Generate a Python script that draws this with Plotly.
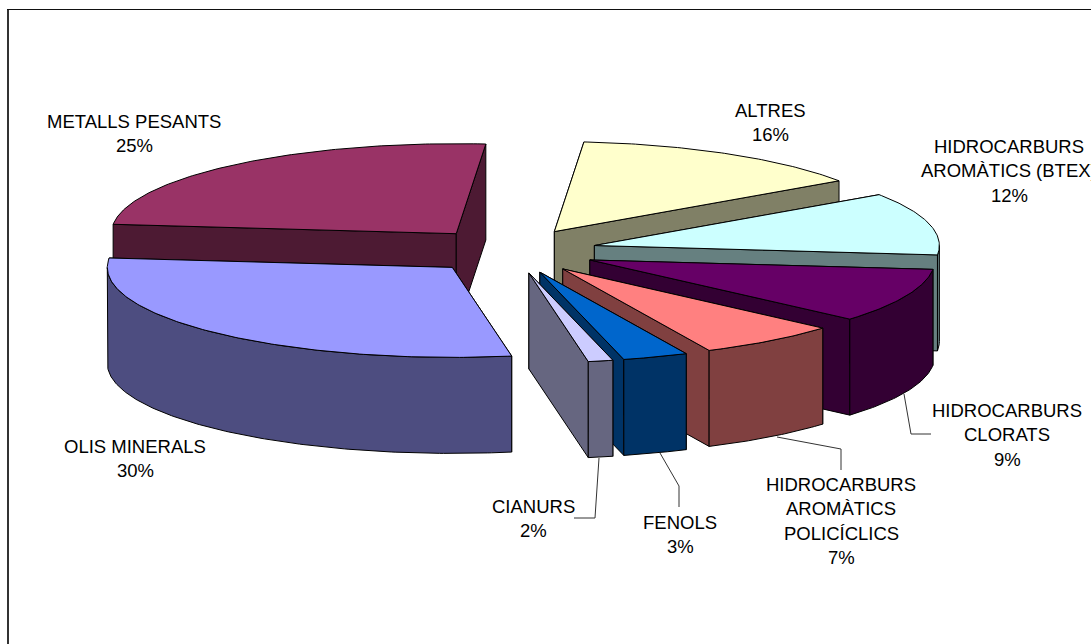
import math
import plotly.graph_objects as go

# ---- data ----
categories = ["METALLS PESANTS", "ALTRES", "HIDROCARBURS AROMÀTICS (BTEX)", "HIDROCARBURS CLORATS",
              "HIDROCARBURS AROMÀTICS POLICÍCLICS", "FENOLS", "CIANURS", "OLIS MINERALS"]
label_percent = [25, 16, 12, 9, 7, 3, 2, 30]
# slice sizes as actually drawn (share of the full turn, in %), clockwise
drawn_share = [24.7, 14.08, 11.22, 9.75, 6.61, 3.06, 1.16, 29.42]
top_colors = ["#993366", "#FFFFCC", "#CCFFFF", "#660066", "#FF8080", "#0066CC", "#CCCCFF", "#9999FF"]
side_colors = ["#4D1A33", "#808066", "#668080", "#330033", "#804040", "#003366", "#666680", "#4D4D80"]
label_lines = [["METALLS PESANTS"], ["ALTRES"], ["HIDROCARBURS", "AROMÀTICS (BTEX)"],
               ["HIDROCARBURS", "CLORATS"], ["HIDROCARBURS", "AROMÀTICS", "POLICÍCLICS"],
               ["FENOLS"], ["CIANURS"], ["OLIS MINERALS"]]
label_x = [134, 770, 1009, 1007, 841, 680, 533, 135]
label_y = [121, 110, 146, 410, 484, 522, 506, 446]
leader_x = [[904, 911, 931], [777, 841, 841], [660, 679, 679], [599, 595, 574]]
leader_y = [[394, 434, 434], [437, 449, 470], [453, 486, 507], [458, 518, 518]]

# ---- pie geometry ----
CX, CY, RX, RY, DEPTH, EXPLODE = 511, 251, 345, 90, 96, 86
START_DEG = 276
LINE_H = 24.6


def pt(ox, oy, t):
    r = math.radians(t)
    return ox + RX * math.sin(r), oy - RY * math.cos(r)


def arc(ox, oy, a, b, dy=0):
    n = max(2, int(abs(b - a) * 1.5))
    pts = [pt(ox, oy, a + (b - a) * i / n) for i in range(n + 1)]
    return [(x, y + dy) for x, y in pts]


fig = go.Figure()


def poly(pts, color):
    xs = [p[0] for p in pts] + [pts[0][0]]
    ys = [p[1] for p in pts] + [pts[0][1]]
    fig.add_trace(go.Scatter(x=xs, y=ys, mode="lines", fill="toself", fillcolor=color,
                             line=dict(color="#000000", width=1), hoverinfo="skip", showlegend=False))


total = sum(drawn_share)
angle = START_DEG
spans = []
for share in drawn_share:
    sweep = share / total * 360
    spans.append((angle, angle + sweep))
    angle += sweep

for i, (a, b) in enumerate(spans):
    mid = math.radians((a + b) / 2)
    ox = CX + EXPLODE * math.sin(mid)
    oy = CY - EXPLODE * RY / RX * math.cos(mid)
    side, top = side_colors[i], top_colors[i]
    for t in (a, b):
        ex, ey = pt(ox, oy, t)
        poly([(ox, oy), (ex, ey), (ex, ey + DEPTH), (ox, oy + DEPTH)], side)
    # outer wall: only the part facing the viewer
    a2, b2 = max(a % 360 if a < 360 else a - 360, 90), min(b if b <= 360 else b - 360, 270)
    if a < 360 and b > 360:
        a2, b2 = 0, -1
    if b2 > a2:
        upper = arc(ox, oy, a2, b2)
        lower = arc(ox, oy, a2, b2, DEPTH)
        poly(upper + lower[::-1], side)
    poly([(ox, oy)] + arc(ox, oy, a, b), top)

for lx, ly in zip(leader_x, leader_y):
    fig.add_trace(go.Scatter(x=lx, y=ly, mode="lines", line=dict(color="#333333", width=1),
                             hoverinfo="skip", showlegend=False))

for lines, pct, x, y in zip(label_lines, label_percent, label_x, label_y):
    for k, txt in enumerate(lines + [f"{pct}%"]):
        fig.add_annotation(x=x, y=y + k * LINE_H, text=txt, showarrow=False, xanchor="center", yanchor="middle",
                           font=dict(family="Liberation Sans", size=18.5, color="#000000"))

fig.update_layout(
    width=1091, height=644, autosize=False, margin=dict(l=0, r=0, t=0, b=0),
    paper_bgcolor="#FFFFFF", plot_bgcolor="#FFFFFF", showlegend=False,
    xaxis=dict(range=[0, 1091], visible=False, fixedrange=True),
    yaxis=dict(range=[644, 0], visible=False, fixedrange=True),
    shapes=[
        dict(type="line", xref="x", yref="y", x0=8, x1=8, y0=9, y1=644, line=dict(color="#333333", width=2)),
        dict(type="line", xref="x", yref="y", x0=7, x1=1091, y0=9.5, y1=9.5, line=dict(color="#111111", width=1)),
    ],
)
fig.write_html("out.html", config={"displayModeBar": False},
               post_script="document.body.style.margin='0';document.body.style.overflow='hidden';")
